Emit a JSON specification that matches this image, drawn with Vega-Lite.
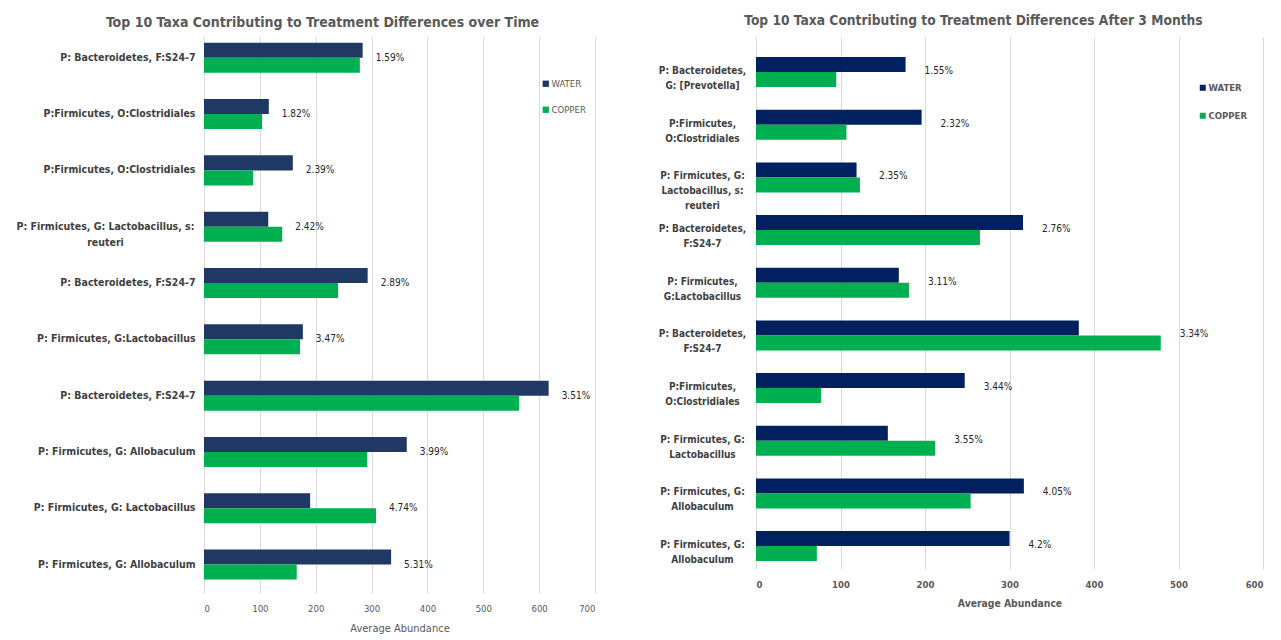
{
  "$schema": "https://vega.github.io/schema/vega-lite/v6.json",
  "background": "white",
  "padding": {"left": 15, "top": 14, "right": 5, "bottom": 5},
  "spacing": 63,
  "config": {
    "font": "DejaVu Sans Condensed, Liberation Sans, sans-serif",
    "view": {"stroke": null},
    "title": {"font": "DejaVu Sans Condensed, Liberation Sans, sans-serif", "fontSize": 14, "fontWeight": "bold", "color": "#595959"},
    "axis": {"labelFont": "DejaVu Sans Condensed, Liberation Sans, sans-serif", "titleFont": "DejaVu Sans Condensed, Liberation Sans, sans-serif"},
    "legend": {"labelFont": "DejaVu Sans Condensed, Liberation Sans, sans-serif"}
  },
  "datasets": {
    "overTime": [
      {"key": "01|P: Bacteroidetes, F:S24-7", "treatment": "WATER", "abundance": 284, "pct": "1.59%"},
      {"key": "01|P: Bacteroidetes, F:S24-7", "treatment": "COPPER", "abundance": 279, "pct": "1.59%"},
      {"key": "02|P:Firmicutes, O:Clostridiales", "treatment": "WATER", "abundance": 116, "pct": "1.82%"},
      {"key": "02|P:Firmicutes, O:Clostridiales", "treatment": "COPPER", "abundance": 104, "pct": "1.82%"},
      {"key": "03|P:Firmicutes, O:Clostridiales", "treatment": "WATER", "abundance": 159, "pct": "2.39%"},
      {"key": "03|P:Firmicutes, O:Clostridiales", "treatment": "COPPER", "abundance": 88, "pct": "2.39%"},
      {"key": "04|P: Firmicutes, G: Lactobacillus, s:|reuteri", "treatment": "WATER", "abundance": 115, "pct": "2.42%"},
      {"key": "04|P: Firmicutes, G: Lactobacillus, s:|reuteri", "treatment": "COPPER", "abundance": 140, "pct": "2.42%"},
      {"key": "05|P: Bacteroidetes, F:S24-7", "treatment": "WATER", "abundance": 293, "pct": "2.89%"},
      {"key": "05|P: Bacteroidetes, F:S24-7", "treatment": "COPPER", "abundance": 240, "pct": "2.89%"},
      {"key": "06|P: Firmicutes, G:Lactobacillus", "treatment": "WATER", "abundance": 177, "pct": "3.47%"},
      {"key": "06|P: Firmicutes, G:Lactobacillus", "treatment": "COPPER", "abundance": 172, "pct": "3.47%"},
      {"key": "07|P: Bacteroidetes, F:S24-7", "treatment": "WATER", "abundance": 617, "pct": "3.51%"},
      {"key": "07|P: Bacteroidetes, F:S24-7", "treatment": "COPPER", "abundance": 564, "pct": "3.51%"},
      {"key": "08|P: Firmicutes, G: Allobaculum", "treatment": "WATER", "abundance": 363, "pct": "3.99%"},
      {"key": "08|P: Firmicutes, G: Allobaculum", "treatment": "COPPER", "abundance": 292, "pct": "3.99%"},
      {"key": "09|P: Firmicutes, G: Lactobacillus", "treatment": "WATER", "abundance": 190, "pct": "4.74%"},
      {"key": "09|P: Firmicutes, G: Lactobacillus", "treatment": "COPPER", "abundance": 308, "pct": "4.74%"},
      {"key": "10|P: Firmicutes, G: Allobaculum", "treatment": "WATER", "abundance": 335, "pct": "5.31%"},
      {"key": "10|P: Firmicutes, G: Allobaculum", "treatment": "COPPER", "abundance": 166, "pct": "5.31%"}
    ],
    "afterThreeMonths": [
      {"key": "01|P: Bacteroidetes,|G:  [Prevotella]", "treatment": "WATER", "abundance": 177, "pct": "1.55%"},
      {"key": "01|P: Bacteroidetes,|G:  [Prevotella]", "treatment": "COPPER", "abundance": 95, "pct": "1.55%"},
      {"key": "02|P:Firmicutes,|O:Clostridiales", "treatment": "WATER", "abundance": 196, "pct": "2.32%"},
      {"key": "02|P:Firmicutes,|O:Clostridiales", "treatment": "COPPER", "abundance": 107, "pct": "2.32%"},
      {"key": "03|P: Firmicutes, G:|Lactobacillus, s:|reuteri", "treatment": "WATER", "abundance": 119, "pct": "2.35%"},
      {"key": "03|P: Firmicutes, G:|Lactobacillus, s:|reuteri", "treatment": "COPPER", "abundance": 123, "pct": "2.35%"},
      {"key": "04|P: Bacteroidetes,|F:S24-7", "treatment": "WATER", "abundance": 316, "pct": "2.76%"},
      {"key": "04|P: Bacteroidetes,|F:S24-7", "treatment": "COPPER", "abundance": 265, "pct": "2.76%"},
      {"key": "05|P: Firmicutes,|G:Lactobacillus", "treatment": "WATER", "abundance": 169, "pct": "3.11%"},
      {"key": "05|P: Firmicutes,|G:Lactobacillus", "treatment": "COPPER", "abundance": 181, "pct": "3.11%"},
      {"key": "06|P: Bacteroidetes,|F:S24-7", "treatment": "WATER", "abundance": 382, "pct": "3.34%"},
      {"key": "06|P: Bacteroidetes,|F:S24-7", "treatment": "COPPER", "abundance": 479, "pct": "3.34%"},
      {"key": "07|P:Firmicutes,|O:Clostridiales", "treatment": "WATER", "abundance": 247, "pct": "3.44%"},
      {"key": "07|P:Firmicutes,|O:Clostridiales", "treatment": "COPPER", "abundance": 77, "pct": "3.44%"},
      {"key": "08|P: Firmicutes, G:|Lactobacillus", "treatment": "WATER", "abundance": 156, "pct": "3.55%"},
      {"key": "08|P: Firmicutes, G:|Lactobacillus", "treatment": "COPPER", "abundance": 212, "pct": "3.55%"},
      {"key": "09|P: Firmicutes, G:|Allobaculum", "treatment": "WATER", "abundance": 317, "pct": "4.05%"},
      {"key": "09|P: Firmicutes, G:|Allobaculum", "treatment": "COPPER", "abundance": 254, "pct": "4.05%"},
      {"key": "10|P: Firmicutes, G:|Allobaculum", "treatment": "WATER", "abundance": 300, "pct": "4.2%"},
      {"key": "10|P: Firmicutes, G:|Allobaculum", "treatment": "COPPER", "abundance": 72, "pct": "4.2%"}
    ]
  },
  "hconcat": [
    {
      "width": 391,
      "height": 556,
      "title": {"text": "Top 10 Taxa Contributing to Treatment Differences over Time", "dx": -77, "offset": 7},
      "data": {"name": "overTime"},
      "layer": [
        {
          "mark": {"type": "bar"},
          "encoding": {
            "y": {
              "field": "key", "type": "nominal", "title": null,
              "scale": {"paddingInner": 0.467, "paddingOuter": 0.17, "align": 0.3},
              "axis": {
                "labelExpr": "slice(split(datum.label, '|'), 1)",
                "labelFontSize": 10.5, "labelFontWeight": "bold", "labelColor": "#404040",
                "labelLineHeight": 16, "labelLimit": 300,
                "labelAlign": {"condition": {"test": "indexof(datum.value, 'reuteri') >= 0", "value": "center"}, "value": "right"},
                "labelPadding": {"condition": {"test": "indexof(datum.value, 'reuteri') >= 0", "value": 99}, "value": 9},
                "ticks": false, "domain": false, "grid": false
              }
            },
            "yOffset": {"field": "treatment", "type": "nominal", "sort": ["WATER", "COPPER"]},
            "x": {
              "field": "abundance", "type": "quantitative", "title": "Average Abundance",
              "scale": {"domain": [0, 700], "nice": false},
              "axis": {
                "values": [0, 100, 200, 300, 400, 500, 600, 700],
                "labelFontSize": 9.5, "labelColor": "#595959", "labelPadding": 10,
                "titleFontSize": 11, "titleFontWeight": "normal", "titleColor": "#595959", "titlePadding": 10,
                "ticks": false, "domain": false, "grid": true, "gridColor": "#D9D9D9"
              }
            },
            "color": {
              "field": "treatment", "type": "nominal", "sort": ["WATER", "COPPER"],
              "scale": {"domain": ["WATER", "COPPER"], "range": ["#1F3864", "#00B050"]},
              "legend": {
                "title": null, "orient": "none", "legendX": 337, "legendY": 42,
                "symbolType": "square", "symbolSize": 40, "symbolStrokeWidth": 0,
                "labelFontSize": 9.5, "labelColor": "#595959", "labelOffset": 1, "rowPadding": 15
              }
            }
          }
        },
        {
          "transform": [
            {"joinaggregate": [{"op": "max", "field": "abundance", "as": "longest"}], "groupby": ["key"]},
            {"filter": "datum.treatment === 'WATER'"}
          ],
          "mark": {"type": "text", "align": "left", "baseline": "middle", "dx": 13, "fontSize": 10, "color": "#262626"},
          "encoding": {
            "y": {"field": "key", "type": "nominal"},
            "x": {"field": "longest", "type": "quantitative"},
            "text": {"field": "pct"}
          }
        }
      ]
    },
    {
      "width": 507,
      "height": 532,
      "title": {"text": "Top 10 Taxa Contributing to Treatment Differences After 3 Months", "fontSize": 13.7, "dx": -36, "offset": 9},
      "data": {"name": "afterThreeMonths"},
      "layer": [
        {
          "mark": {"type": "bar"},
          "encoding": {
            "y": {
              "field": "key", "type": "nominal", "title": null,
              "scale": {"paddingInner": 0.468, "paddingOuter": 0.284, "align": 0.67},
              "axis": {
                "labelExpr": "slice(split(datum.label, '|'), 1)",
                "labelFontSize": 10, "labelFontWeight": "bold", "labelColor": "#404040",
                "labelLineHeight": 15, "labelLimit": 200,
                "labelAlign": "center", "labelPadding": 54,
                "ticks": false, "domain": false, "grid": false
              }
            },
            "yOffset": {"field": "treatment", "type": "nominal", "sort": ["WATER", "COPPER"]},
            "x": {
              "field": "abundance", "type": "quantitative", "title": "Average Abundance",
              "scale": {"domain": [0, 600], "nice": false},
              "axis": {
                "values": [0, 100, 200, 300, 400, 500, 600],
                "labelFontSize": 9.5, "labelFontWeight": "bold", "labelColor": "#595959", "labelPadding": 10,
                "titleFontSize": 10.3, "titleFontWeight": "bold", "titleColor": "#595959", "titlePadding": 10,
                "ticks": false, "domain": false, "grid": true, "gridColor": "#D9D9D9"
              }
            },
            "color": {
              "field": "treatment", "type": "nominal", "sort": ["WATER", "COPPER"],
              "scale": {"domain": ["WATER", "COPPER"], "range": ["#002060", "#00B050"]},
              "legend": {
                "title": null, "orient": "none", "legendX": 442, "legendY": 46,
                "symbolType": "square", "symbolSize": 36, "symbolStrokeWidth": 0,
                "labelFontSize": 9.5, "labelFontWeight": "bold", "labelColor": "#595959", "labelOffset": 1, "rowPadding": 17
              }
            }
          }
        },
        {
          "transform": [
            {"joinaggregate": [{"op": "max", "field": "abundance", "as": "longest"}], "groupby": ["key"]},
            {"filter": "datum.treatment === 'WATER'"}
          ],
          "mark": {"type": "text", "align": "left", "baseline": "middle", "dx": 19, "fontSize": 10, "color": "#262626"},
          "encoding": {
            "y": {"field": "key", "type": "nominal"},
            "x": {"field": "longest", "type": "quantitative"},
            "text": {"field": "pct"}
          }
        }
      ]
    }
  ],
  "resolve": {"scale": {"color": "independent", "x": "independent", "y": "independent"}}
}
